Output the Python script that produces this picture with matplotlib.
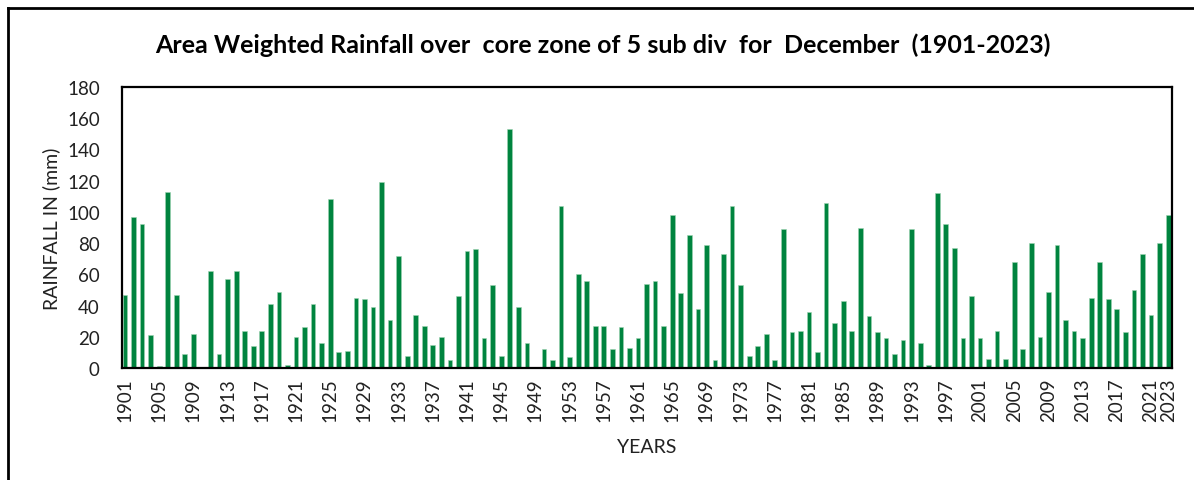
import matplotlib.pyplot as plt
import numpy as np
from matplotlib.lines import Line2D

plt.rcParams["font.family"] = ["Lato", "DejaVu Sans"]

years = np.arange(1901, 2024)

rain_1901_1930 = [47, 97, 92, 21, 1, 113, 47, 9, 22, 0,
                  62, 9, 57, 62, 24, 14, 24, 41, 49, 2,
                  20, 26, 41, 16, 108, 10, 11, 45, 44, 39]
rain_1931_1960 = [119, 31, 72, 8, 34, 27, 15, 20, 5, 46,
                  75, 76, 19, 53, 8, 153, 39, 16, 0, 12,
                  5, 104, 7, 60, 56, 27, 27, 12, 26, 13]
rain_1961_1990 = [19, 54, 56, 27, 98, 48, 85, 38, 79, 5,
                  73, 104, 53, 8, 14, 22, 5, 89, 23, 24,
                  36, 10, 106, 29, 43, 24, 90, 33, 23, 19]
rain_1991_2023 = [9, 18, 89, 16, 2, 112, 92, 77, 19, 46,
                  19, 6, 24, 6, 68, 12, 80, 20, 49, 79,
                  31, 24, 19, 45, 68, 44, 38, 23, 50, 73,
                  34, 80, 98]

rainfall = np.array(rain_1901_1930 + rain_1931_1960 + rain_1961_1990 + rain_1991_2023, dtype=float)

tick_years = list(range(1901, 2022, 4)) + [2023]

BAR_COLOR = "#00843F"

fig = plt.figure(figsize=(11.94, 4.81), dpi=100)
ax = fig.add_axes([122 / 1194, 1 - 369 / 481, (1172 - 122) / 1194, (369 - 88) / 481])

ax.bar(years, rainfall, width=0.55, color=BAR_COLOR, edgecolor="#9fd3b3", linewidth=0.4)

ax.set_xlim(1900.65, 2023.45)
ax.set_ylim(0, 180)
ax.set_yticks(np.arange(0, 181, 20))
ax.set_xticks(tick_years)
ax.set_xticklabels([str(y) for y in tick_years], rotation=90)
ax.tick_params(axis="both", length=0, labelsize=13.5, colors="#222222")
ax.tick_params(axis="x", pad=7)
ax.tick_params(axis="y", pad=16)
for s in ax.spines.values():
    s.set_linewidth(1.6)
    s.set_color("black")

ax.set_xlabel("YEARS", fontsize=14, color="#222222", labelpad=12)
ax.set_ylabel("RAINFALL IN (mm)", fontsize=14, color="#222222", labelpad=5)

fig.text(603 / 1194, 1 - 45 / 481, "Area Weighted Rainfall over  core zone of 5 sub div  for  December  (1901-2023)",
         ha="center", va="center", fontsize=18, fontweight="bold")

# outer chart border (top and left edges visible)
fig.add_artist(Line2D([8 / 1194, 8 / 1194], [0, 1 - 9 / 481], transform=fig.transFigure, color="black", lw=2))
fig.add_artist(Line2D([8 / 1194, 1], [1 - 9 / 481, 1 - 9 / 481], transform=fig.transFigure, color="black", lw=2))

fig.savefig("out.png", dpi=100)
